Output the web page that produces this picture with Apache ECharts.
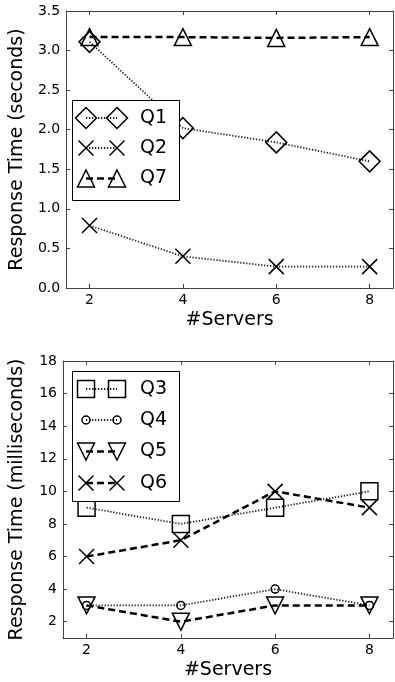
<!DOCTYPE html>
<html>
<head>
<meta charset="utf-8">
<script src="https://cdn.jsdelivr.net/npm/echarts@6/dist/echarts.min.js"></script>
<style>
html,body{margin:0;padding:0;background:#fff;}
#chart{width:395px;height:682px;}
</style>
</head>
<body>
<div id="chart"></div>
<script>
// ---- data ----
var servers = [2, 4, 6, 8];
var xTicks = [2, 4, 6, 8];
var q1 = [3.11, 2.02, 1.84, 1.60];
var q2 = [0.79, 0.40, 0.27, 0.27];
var q7 = [3.17, 3.17, 3.16, 3.17];
var q3 = [9, 8, 9, 10];
var q4 = [3, 3, 4, 3];
var q5 = [3, 2, 3, 3];
var q6 = [6, 7, 10, 9];
var yTicksBottom = [2, 4, 6, 8, 10, 12, 14, 16, 18];
var topTitle = 'Response Time (seconds)';
var bottomTitle = 'Response Time (milliseconds)';
var xTitle = '#Servers';

var FONT = 'DejaVu Sans';
var XPATH = 'path://M0,0L10,10M10,0L0,10';

function pairs(ys) { return servers.map(function (x, i) { return [x, ys[i]]; }); }

var dotted = { color: '#222', width: 1.8, type: [1.3, 1.7] };
var dashed = { color: '#000', width: 2.5, type: [7, 4] };
var mk = { color: 'rgba(0,0,0,0)', borderColor: '#000', borderWidth: 1.5 };

function mkSeries(name, ys, grid, symbol, size, ls, rot) {
  return {
    name: name, type: 'line', xAxisIndex: grid * 2, yAxisIndex: grid * 2,
    data: pairs(ys), symbol: symbol, symbolSize: size, symbolRotate: rot || 0,
    showAllSymbol: true, lineStyle: ls, itemStyle: mk, z: 3,
    emphasis: { disabled: true }, silent: true
  };
}

var axisLine = { show: true, onZero: false, lineStyle: { color: '#444', width: 1 } };
var tickIn = { show: true, inside: true, length: 4, lineStyle: { color: '#444', width: 1 } };
var lbl = { color: '#000', fontFamily: FONT, fontSize: 14 };

function xAxes(grid) {
  return [{
    type: 'value', gridIndex: grid, min: 1.5, max: 8.5, position: 'bottom',
    axisLine: axisLine, axisTick: Object.assign({ customValues: xTicks }, tickIn),
    axisLabel: Object.assign({ customValues: xTicks, margin: 5 }, lbl),
    splitLine: { show: false },
    name: xTitle, nameLocation: 'middle', nameGap: 23,
    nameTextStyle: { color: '#000', fontFamily: FONT, fontSize: 19 }
  }, {
    type: 'value', gridIndex: grid, min: 1.5, max: 8.5, position: 'top',
    axisLine: axisLine, axisTick: Object.assign({ customValues: xTicks }, tickIn),
    axisLabel: { show: false }, splitLine: { show: false }
  }];
}

function yAxes(grid, min, max, interval, ticks, fmt, title) {
  var tk = ticks ? Object.assign({ customValues: ticks }, tickIn) : tickIn;
  var lb = Object.assign({ margin: 6, formatter: fmt }, lbl);
  if (ticks) lb.customValues = ticks;
  var a = {
    type: 'value', gridIndex: grid, min: min, max: max, position: 'left',
    axisLine: axisLine, axisTick: tk, axisLabel: lb, splitLine: { show: false },
    name: title, nameLocation: 'middle', nameGap: 36,
    nameTextStyle: { color: '#000', fontFamily: FONT, fontSize: 19 }
  };
  var b = {
    type: 'value', gridIndex: grid, min: min, max: max, position: 'right',
    axisLine: axisLine, axisTick: tk, axisLabel: { show: false }, splitLine: { show: false }
  };
  if (interval) { a.interval = interval; b.interval = interval; }
  return [a, b];
}

// ---- legend drawing (graphic) ----
function markerGraphic(kind, cx, cy) {
  var st = { fill: 'none', stroke: '#000', lineWidth: 1.5 };
  if (kind === 'diamond') {
    var h = 10.5;
    return { type: 'polygon', shape: { points: [[cx, cy - h], [cx + h, cy], [cx, cy + h], [cx - h, cy]] }, style: st };
  }
  if (kind === 'tri') {
    var w = 8.5;
    return { type: 'polygon', shape: { points: [[cx, cy - w], [cx + w, cy + w], [cx - w, cy + w]] }, style: st };
  }
  if (kind === 'dtri') {
    var w2 = 8.5;
    return { type: 'polygon', shape: { points: [[cx, cy + w2], [cx + w2, cy - w2], [cx - w2, cy - w2]] }, style: st };
  }
  if (kind === 'rect') {
    return { type: 'rect', shape: { x: cx - 8.5, y: cy - 8.5, width: 17, height: 17 }, style: st };
  }
  if (kind === 'circle') {
    return { type: 'circle', shape: { cx: cx, cy: cy, r: 4 }, style: st };
  }
}

function legendGraphic(box, items) {
  var els = [{
    type: 'rect', shape: { x: box[0], y: box[1], width: box[2], height: box[3] },
    style: { fill: '#fff', stroke: '#000', lineWidth: 1 }, z: 10
  }];
  items.forEach(function (it) {
    var y = it.y, x1 = 86, x2 = 117;
    els.push({ type: 'line', shape: { x1: x1, y1: y, x2: x2, y2: y }, z: 11,
      style: { stroke: it.dash ? '#000' : '#222', lineWidth: it.dash ? 2.5 : 1.8, lineDash: it.dash ? [7, 4] : [1.3, 1.7] } });
    [x1, x2].forEach(function (cx) {
      if (it.kind === 'x') {
        var s = 7.5, st = { fill: 'none', stroke: '#000', lineWidth: 1.5 };
        els.push({ type: 'line', shape: { x1: cx - s, y1: y - s, x2: cx + s, y2: y + s }, style: st, z: 12 });
        els.push({ type: 'line', shape: { x1: cx + s, y1: y - s, x2: cx - s, y2: y + s }, style: st, z: 12 });
      } else {
        var g = markerGraphic(it.kind, cx, y); g.z = 12; els.push(g);
      }
    });
    els.push({ type: 'text', x: 140, y: y, z: 12,
      style: { text: it.name, fill: '#000', font: '19px "DejaVu Sans"', verticalAlign: 'middle', align: 'left' } });
  });
  return els;
}

var graphics = []
  .concat(legendGraphic([72.5, 100.5, 107, 100], [
    { name: 'Q1', kind: 'diamond', y: 118, dash: false },
    { name: 'Q2', kind: 'x', y: 148, dash: false },
    { name: 'Q7', kind: 'tri', y: 178.5, dash: true }
  ]))
  .concat(legendGraphic([72.5, 371.5, 107, 130], [
    { name: 'Q3', kind: 'rect', y: 389, dash: false },
    { name: 'Q4', kind: 'circle', y: 420, dash: false },
    { name: 'Q5', kind: 'dtri', y: 451.5, dash: true },
    { name: 'Q6', kind: 'x', y: 483, dash: true }
  ]));

var chart = echarts.init(document.getElementById('chart'), null, { renderer: 'canvas' });
chart.setOption({
  animation: false,
  backgroundColor: '#fff',
  grid: [
    { left: 62, top: 11, width: 331, height: 277 },
    { left: 62, top: 361, width: 331, height: 277 }
  ],
  xAxis: xAxes(0).concat(xAxes(1)),
  yAxis: yAxes(0, 0, 3.5, 0.5, null, function (v) { return v.toFixed(1); }, topTitle)
    .concat(yAxes(1, 1, 18, null, yTicksBottom, function (v) { return String(v); }, bottomTitle)),
  series: [
    mkSeries('Q1', q1, 0, 'diamond', 21, dotted),
    mkSeries('Q2', q2, 0, XPATH, 15, dotted),
    mkSeries('Q7', q7, 0, 'triangle', 17, dashed),
    mkSeries('Q3', q3, 1, 'rect', 17, dotted),
    mkSeries('Q4', q4, 1, 'circle', 8, dotted),
    mkSeries('Q5', q5, 1, 'triangle', 17, dashed, 180),
    mkSeries('Q6', q6, 1, XPATH, 15, dashed)
  ],
  graphic: graphics
});
</script>
</body>
</html>
